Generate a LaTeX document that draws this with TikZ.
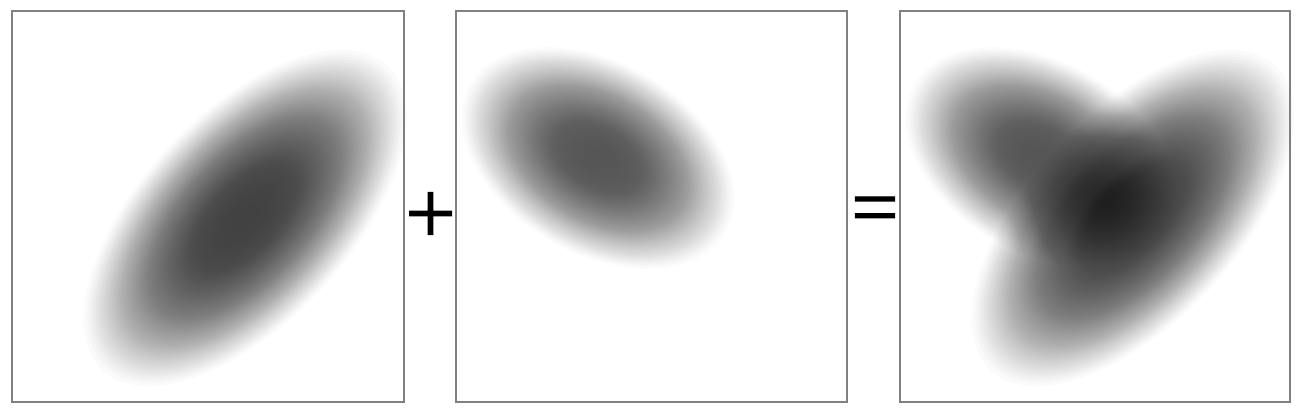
\documentclass[tikz,border=0pt]{standalone}
\usepackage{fontspec}
\newfontfamily\opfont[FakeBold=1.3]{Liberation Serif}
\tikzset{
  frame/.style={draw=black!50, line width=1pt},
  sym/.style={inner sep=0pt, text=black}
}
% soft blob made of nested translucent ellipses
% #1,#2 centre, #3 angle, #4,#5 radii, #6 peak darkness
\newcommand\gblob[6]{%
  \begin{scope}[shift={(#1,#2)}, rotate=#3]
    \pgfmathsetmacro\galpha{1-(1-#6)^(1/70)}
    \foreach \k in {1,...,70}{
      \pgfmathsetmacro\gc{(1-(1-#6)^((\k-0.5)/70))/#6}
      \pgfmathsetmacro\gs{max(0,1-(\gc)^(1/1.4))^(1/2.5)}
      \fill[black, fill opacity=\galpha] (0,0) ellipse ({\gs*#4} and {\gs*#5});
    }
  \end{scope}}
\begin{document}
\begin{tikzpicture}[x=0.5pt, y=-0.5pt]
  \useasboundingbox (0,0) rectangle (1304,412);
  % left panel
  \gblob{245}{218}{47}{212}{106}{0.72}
  \draw[frame] (12,11) rectangle (404,402);
  % middle panel
  \gblob{598}{158}{-30}{150}{97}{0.66}
  \draw[frame] (456,11) rectangle (847,402);
  % right panel (sum)
  \gblob{1133}{218}{47}{212}{106}{0.72}
  \gblob{1042}{158}{-30}{150}{97}{0.66}
  \draw[frame] (900,11) rectangle (1290,402);
  % operators
  \node[sym, font=\fontsize{45}{45}\selectfont\opfont] (plus) at (430.5,218) {+};
  \node[sym, font=\fontsize{42}{42}\selectfont\opfont] (eq) at (875,216) {=};
\end{tikzpicture}
\end{document}
